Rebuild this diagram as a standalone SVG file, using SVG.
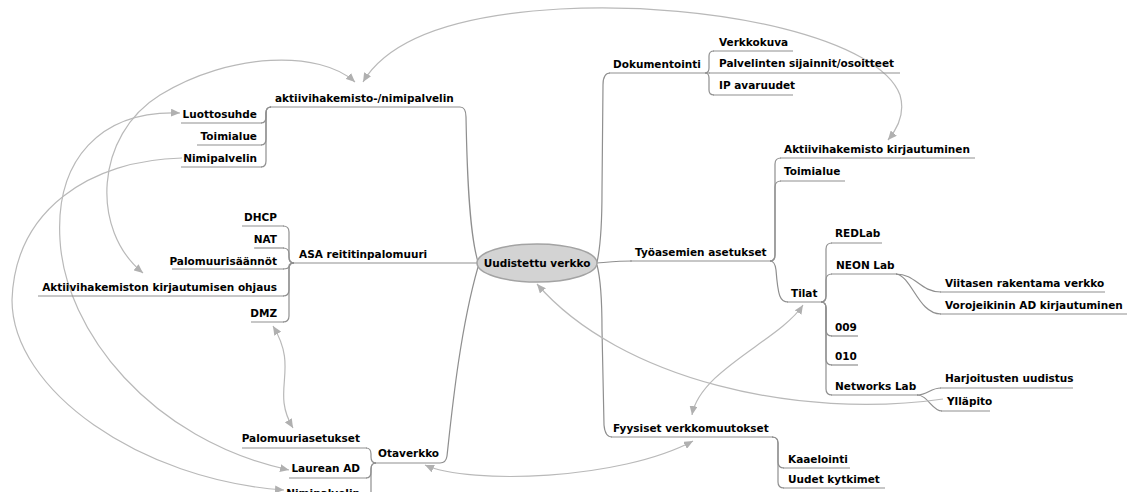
<svg xmlns="http://www.w3.org/2000/svg" width="1127" height="492" viewBox="0 0 1127 492">
  <style>
    text { font-family: "DejaVu Sans", "Liberation Sans", sans-serif; font-size: 10.5px; font-weight: bold; fill: #000; }
    .end { text-anchor: end; }
    .ul { fill: none; stroke: #8f8f8f; stroke-width: 1.2; }
    .edge { fill: none; stroke: #8f8f8f; stroke-width: 1.2; }
    .link { fill: none; stroke: #b9b9b9; stroke-width: 1.2; }
  </style>
  <defs>
    <marker id="arrow" viewBox="0 0 9 8" refX="9" refY="4" markerWidth="9" markerHeight="8" markerUnits="userSpaceOnUse" orient="auto-start-reverse">
      <path d="M0,0 L9,4 L0,8 z" fill="#b0b0b0"/>
    </marker>
  </defs>

  <!-- tree connectors -->
  <g id="connectors">
    <!-- root to main branches -->
    <path class="edge" d="M460,107 Q466,107 466,117 C467,170 469,232 478,262"/>
    <path class="edge" d="M432,263 L478,263"/>
    <path class="edge" d="M440,463 Q446,463 447,456 C452,410 460,330 478,267"/>
    <path class="edge" d="M597,262 C601,245 602,220 602,190 L603,85 Q603,73 610,73"/>
    <path class="edge" d="M597,263 C610,262 620,261 632,261"/>
    <path class="edge" d="M597,265 C601,280 602,300 602,330 L604,425 Q605,437 612,437"/>
    <!-- aktiivihakemisto-/nimipalvelin -->
    <path class="edge" d="M271,107 Q266,107 266,113 V117 Q266,123 261,123"/>
    <path class="edge" d="M271,107 Q266,107 266,113 V139 Q266,145 261,145"/>
    <path class="edge" d="M271,107 Q266,107 266,113 V161 Q266,167 261,167"/>
    <!-- ASA reititinpalomuuri -->
    <path class="edge" d="M294,263 Q289,263 289,257 V232 Q289,226 283,226"/>
    <path class="edge" d="M294,263 Q289,263 289,257 V254 Q289,248 283,248"/>
    <path class="edge" d="M294,263 Q289,263 289,266 Q289,269 283,269"/>
    <path class="edge" d="M294,263 Q289,263 289,269 V290 Q289,296 283,296"/>
    <path class="edge" d="M294,263 Q289,263 289,269 V316 Q289,322 283,322"/>
    <!-- Otaverkko -->
    <path class="edge" d="M376,463 Q371,463 371,457 V454 Q371,448 366,448"/>
    <path class="edge" d="M376,463 Q371,463 371,469 V472 Q371,478 366,478"/>
    <path class="edge" d="M376,463 Q371,463 371,469 V496 Q371,502 366,502"/>
    <!-- Dokumentointi -->
    <path class="edge" d="M705,73 Q709,73 709,68 V56 Q709,51 714,51"/>
    <path class="edge" d="M705,73 Q709,73 709,78 V90 Q709,95 714,95"/>
    <!-- Työasemien asetukset -->
    <path class="edge" d="M770,261 Q775,261 775,255 V164 Q775,158 781,158"/>
    <path class="edge" d="M770,261 Q775,261 775,255 V187 Q775,181 781,181"/>
    <path class="edge" d="M770,261 Q775,261 776,270 C778,296 780,302 788,302"/>
    <!-- Tilat -->
    <path class="edge" d="M821,302 Q826,302 826,296 V249 Q826,243 832,243"/>
    <path class="edge" d="M821,302 Q826,302 826,296 V280 Q826,274 832,274"/>
    <path class="edge" d="M821,302 Q826,302 826,308 V330 Q826,336 832,336"/>
    <path class="edge" d="M821,302 Q826,302 826,308 V359 Q826,365 832,365"/>
    <path class="edge" d="M821,302 Q826,302 826,308 V389 Q826,395 832,395"/>
    <!-- NEON Lab -->
    <path class="edge" d="M896,274 C916,274 920,292 941,292"/>
    <path class="edge" d="M896,274 C912,276 918,314 941,314"/>
    <!-- Networks Lab -->
    <path class="edge" d="M917,395 C928,395 930,388 941,388"/>
    <path class="edge" d="M917,395 C928,395 932,411 942,411"/>
    <!-- Fyysiset verkkomuutokset -->
    <path class="edge" d="M772,437 Q778,437 778,443 V462 Q778,468 784,468"/>
    <path class="edge" d="M772,437 Q778,437 778,443 V482 Q778,488 784,488"/>
  </g>

  <!-- cross links -->
  <g id="links">
    <path class="link" d="M363,82 C385,45 440,16 560,9 C720,1 880,40 900,95 C905,112 898,128 888,140" marker-start="url(#arrow)" marker-end="url(#arrow)"/>
    <path class="link" d="M355,82 C320,50 230,52 160,95 C95,135 90,230 143,273" marker-start="url(#arrow)" marker-end="url(#arrow)"/>
    <path class="link" d="M180,113 C100,110 55,160 60,240 C65,330 150,440 289,470" marker-start="url(#arrow)" marker-end="url(#arrow)"/>
    <path class="link" d="M182,158 C90,160 15,210 12,300 C12,390 140,480 284,490" marker-end="url(#arrow)"/>
    <path class="link" d="M273,326 C300,370 270,390 293,428" marker-start="url(#arrow)" marker-end="url(#arrow)"/>
    <path class="link" d="M425,465 C470,485 620,480 693,441" marker-start="url(#arrow)" marker-end="url(#arrow)"/>
    <path class="link" d="M803,305 C780,340 700,370 692,415" marker-start="url(#arrow)" marker-end="url(#arrow)"/>
    <path class="link" d="M943,399 C800,420 620,380 537,284" marker-end="url(#arrow)"/>
  </g>

  <!-- root -->
  <g id="root">
    <ellipse cx="537" cy="263" rx="60" ry="19" fill="#d3d3d3" stroke="#a3a3a3" stroke-width="1.5"/>
    <text x="537" y="267" text-anchor="middle">Uudistettu verkko</text>
  </g>

  <!-- left branches -->
  <g id="n-aktiivihakemisto">
    <text x="275" y="102">aktiivihakemisto-/nimipalvelin</text>
    <path class="ul" d="M270,107 H460"/>
  </g>
  <g id="n-luottosuhde">
    <text class="end" x="257" y="118">Luottosuhde</text>
    <path class="ul" d="M181,123 H262"/>
  </g>
  <g id="n-toimialue-1">
    <text class="end" x="257" y="140">Toimialue</text>
    <path class="ul" d="M197,145 H262"/>
  </g>
  <g id="n-nimipalvelin-1">
    <text class="end" x="257" y="162">Nimipalvelin</text>
    <path class="ul" d="M181,167 H262"/>
  </g>

  <g id="n-asa">
    <text x="299" y="258">ASA reititinpalomuuri</text>
    <path class="ul" d="M293,263 H432"/>
  </g>
  <g id="n-dhcp">
    <text class="end" x="277" y="221">DHCP</text>
    <path class="ul" d="M242,226 H284"/>
  </g>
  <g id="n-nat">
    <text class="end" x="277" y="243">NAT</text>
    <path class="ul" d="M254,248 H284"/>
  </g>
  <g id="n-palomuurisaannot">
    <text class="end" x="277" y="265">Palomuurisäännöt</text>
    <path class="ul" d="M172,269 H284"/>
  </g>
  <g id="n-ad-ohjaus">
    <text class="end" x="277" y="291">Aktiivihakemiston kirjautumisen ohjaus</text>
    <path class="ul" d="M38,296 H284"/>
  </g>
  <g id="n-dmz">
    <text class="end" x="277" y="317">DMZ</text>
    <path class="ul" d="M251,322 H284"/>
  </g>

  <g id="n-otaverkko">
    <text x="378" y="457">Otaverkko</text>
    <path class="ul" d="M375,463 H440"/>
  </g>
  <g id="n-palomuuriasetukset">
    <text class="end" x="360" y="442">Palomuuriasetukset</text>
    <path class="ul" d="M242,448 H367"/>
  </g>
  <g id="n-laurean-ad">
    <text class="end" x="360" y="472">Laurean AD</text>
    <path class="ul" d="M289,478 H367"/>
  </g>
  <g id="n-nimipalvelin-2">
    <text class="end" x="360" y="497">Nimipalvelin</text>
    <path class="ul" d="M281,502 H367"/>
  </g>

  <!-- right branches -->
  <g id="n-dokumentointi">
    <text x="613" y="68">Dokumentointi</text>
    <path class="ul" d="M609,73 H710"/>
  </g>
  <g id="n-verkkokuva">
    <text x="719" y="46">Verkkokuva</text>
    <path class="ul" d="M713,51 H793"/>
  </g>
  <g id="n-palvelinten">
    <text x="719" y="67">Palvelinten sijainnit/osoitteet</text>
    <path class="ul" d="M709,73 H900"/>
  </g>
  <g id="n-ip">
    <text x="719" y="89">IP avaruudet</text>
    <path class="ul" d="M713,95 H793"/>
  </g>

  <g id="n-tyoasemien">
    <text x="635" y="256">Työasemien asetukset</text>
    <path class="ul" d="M630,261 H771"/>
  </g>
  <g id="n-ad-kirjautuminen">
    <text x="784" y="153">Aktiivihakemisto kirjautuminen</text>
    <path class="ul" d="M780,158 H975"/>
  </g>
  <g id="n-toimialue-2">
    <text x="784" y="175">Toimialue</text>
    <path class="ul" d="M780,181 H845"/>
  </g>
  <g id="n-tilat">
    <text x="791" y="297">Tilat</text>
    <path class="ul" d="M787,302 H822"/>
  </g>
  <g id="n-redlab">
    <text x="835" y="237">REDLab</text>
    <path class="ul" d="M831,243 H882"/>
  </g>
  <g id="n-neonlab">
    <text x="836" y="269">NEON Lab</text>
    <path class="ul" d="M831,274 H897"/>
  </g>
  <g id="n-viitasen">
    <text x="945" y="287">Viitasen rakentama verkko</text>
    <path class="ul" d="M940,292 H1105"/>
  </g>
  <g id="n-vorojeikinin">
    <text x="945" y="309">Vorojeikinin AD kirjautuminen</text>
    <path class="ul" d="M940,314 H1127"/>
  </g>
  <g id="n-009">
    <text x="835" y="331">009</text>
    <path class="ul" d="M831,336 H858"/>
  </g>
  <g id="n-010">
    <text x="835" y="360">010</text>
    <path class="ul" d="M831,365 H858"/>
  </g>
  <g id="n-networkslab">
    <text x="835" y="390">Networks Lab</text>
    <path class="ul" d="M831,395 H918"/>
  </g>
  <g id="n-harjoitusten">
    <text x="945" y="382">Harjoitusten uudistus</text>
    <path class="ul" d="M940,388 H1073"/>
  </g>
  <g id="n-yllapito">
    <text x="947" y="405">Ylläpito</text>
    <path class="ul" d="M941,411 H990"/>
  </g>

  <g id="n-fyysiset">
    <text x="613" y="432">Fyysiset verkkomuutokset</text>
    <path class="ul" d="M611,437 H773"/>
  </g>
  <g id="n-kaaelointi">
    <text x="788" y="463">Kaaelointi</text>
    <path class="ul" d="M783,468 H850"/>
  </g>
  <g id="n-kytkimet">
    <text x="788" y="483">Uudet kytkimet</text>
    <path class="ul" d="M783,488 H885"/>
  </g>
</svg>
